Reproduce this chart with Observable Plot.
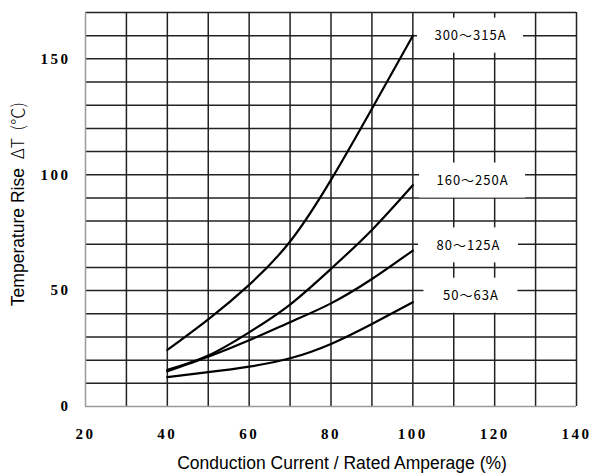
<!DOCTYPE html>
<html><head><meta charset="utf-8">
<script src="https://cdn.jsdelivr.net/npm/d3@7"></script>
<script src="https://cdn.jsdelivr.net/npm/@observablehq/plot@0.6"></script>
<style>body{margin:0;background:#fff}</style>
</head><body><div id="chart"></div>
<script>
// ---- data ----
const currentPct = [40, 50, 60, 70, 80, 90, 100];
const rise300to315 = [24.4, 37.6, 52.5, 71.2, 97.8, 128.5, 160.0];
const rise160to250 = [15.8, 22.0, 32.0, 44.0, 59.4, 76.2, 95.5];
const rise80to125  = [15.2, 21.5, 28.6, 36.4, 44.5, 55.0, 67.3];
const rise50to63   = [12.7, 14.8, 17.2, 20.8, 27.0, 35.6, 45.0];
const seriesNames  = ["300〜315A", "160〜250A", "80〜125A", "50〜63A"];
const labelAtX     = [114.1, 114.6, 113.6, 114.2];
const labelAtY     = [160.0, 97.5, 69.5, 47.8];
const xTicks = [20, 40, 60, 80, 100, 120, 140];
const yTicks = [0, 50, 100, 150];
const xGrid = [30, 40, 50, 60, 70, 80, 90, 100, 110, 120, 130];
const yGrid = [10, 20, 30, 40, 50, 60, 70, 80, 90, 100, 110, 120, 130, 140, 150, 160];

// ---- build tables ----
const seriesValues = [rise300to315, rise160to250, rise80to125, rise50to63];
const rows = [];
seriesValues.forEach((vals, i) => vals.forEach((v, j) => rows.push({series: seriesNames[i], x: currentPct[j], y: v})));
const labels = seriesNames.map((s, i) => ({text: s, x: labelAtX[i], y: labelAtY[i]}));

const W = 593, H = 475, mL = 85, mR = 17, mT = 12, mB = 69;
const kx = (W - mL - mR) / (140 - 20);
const ky = (H - mT - mB) / (170 - 0);
const boxW = d => (6 * [...d.text].length + 58) / kx / 2;
const boxH = 17.5 / ky;

const gridColor = "#222";
const svg = Plot.plot({
  width: W, height: H,
  marginLeft: mL, marginRight: mR, marginTop: mT, marginBottom: mB,
  x: {domain: [20, 140]},
  y: {domain: [0, 170]},
  style: {background: "#fff", color: "#000"},
  marks: [
    Plot.ruleX(xGrid, {stroke: gridColor, strokeWidth: 1.5}),
    Plot.ruleY(yGrid, {stroke: gridColor, strokeWidth: 1.5}),
    Plot.ruleX([140], {stroke: gridColor, strokeWidth: 1.5}),
    Plot.ruleY([170], {stroke: gridColor, strokeWidth: 1.5}),
    Plot.ruleX([20], {stroke: "#9a9a9a", strokeWidth: 1.5}),
    Plot.ruleY([0], {stroke: "#9a9a9a", strokeWidth: 1.5}),
    Plot.rect(labels, {x1: d => d.x - boxW(d), x2: d => d.x + boxW(d), y1: d => d.y - boxH, y2: d => d.y + boxH, fill: "#fff"}),
    Plot.line(rows, {x: "x", y: "y", z: "series", stroke: "#000", strokeWidth: 2.2, curve: "natural"}),
    Plot.text(labels, {x: "x", y: "y", text: "text", fontSize: 13, fontFamily: "Noto Sans CJK JP", fill: "#000"}),
    Plot.axisX(xTicks, {tickSize: 0, tickPadding: 22, fontSize: 15, fontFamily: "Liberation Serif", fontWeight: "bold", label: null}),
    Plot.axisY(yTicks, {tickSize: 0, tickPadding: 15, fontSize: 15, fontFamily: "Liberation Serif", fontWeight: "bold", label: null})
  ]
});

const s = d3.select(svg);
s.selectAll("g[aria-label='x-axis tick label'] text, g[aria-label='y-axis tick label'] text").attr("letter-spacing", 2.5);
s.selectAll("g[aria-label='text'] text").attr("letter-spacing", 1);

// axis titles
s.append("text")
  .attr("x", 342).attr("y", 469)
  .attr("text-anchor", "middle")
  .attr("font-family", "Liberation Sans, Arial, sans-serif")
  .attr("font-size", 17.5)
  .attr("fill", "#000")
  .text("Conduction Current / Rated Amperage (%)");

const yt = s.append("text")
  .attr("transform", "translate(24,204) rotate(-90)")
  .attr("text-anchor", "middle")
  .attr("font-size", 17.5)
  .attr("fill", "#000");
yt.append("tspan").attr("font-family", "Liberation Sans, Arial, sans-serif").text("Temperature Rise ");
yt.append("tspan").attr("font-family", "Noto Sans CJK JP").attr("font-weight", 300).text(" ΔT  (℃)");

document.getElementById("chart").appendChild(svg);
</script>
</body></html>
